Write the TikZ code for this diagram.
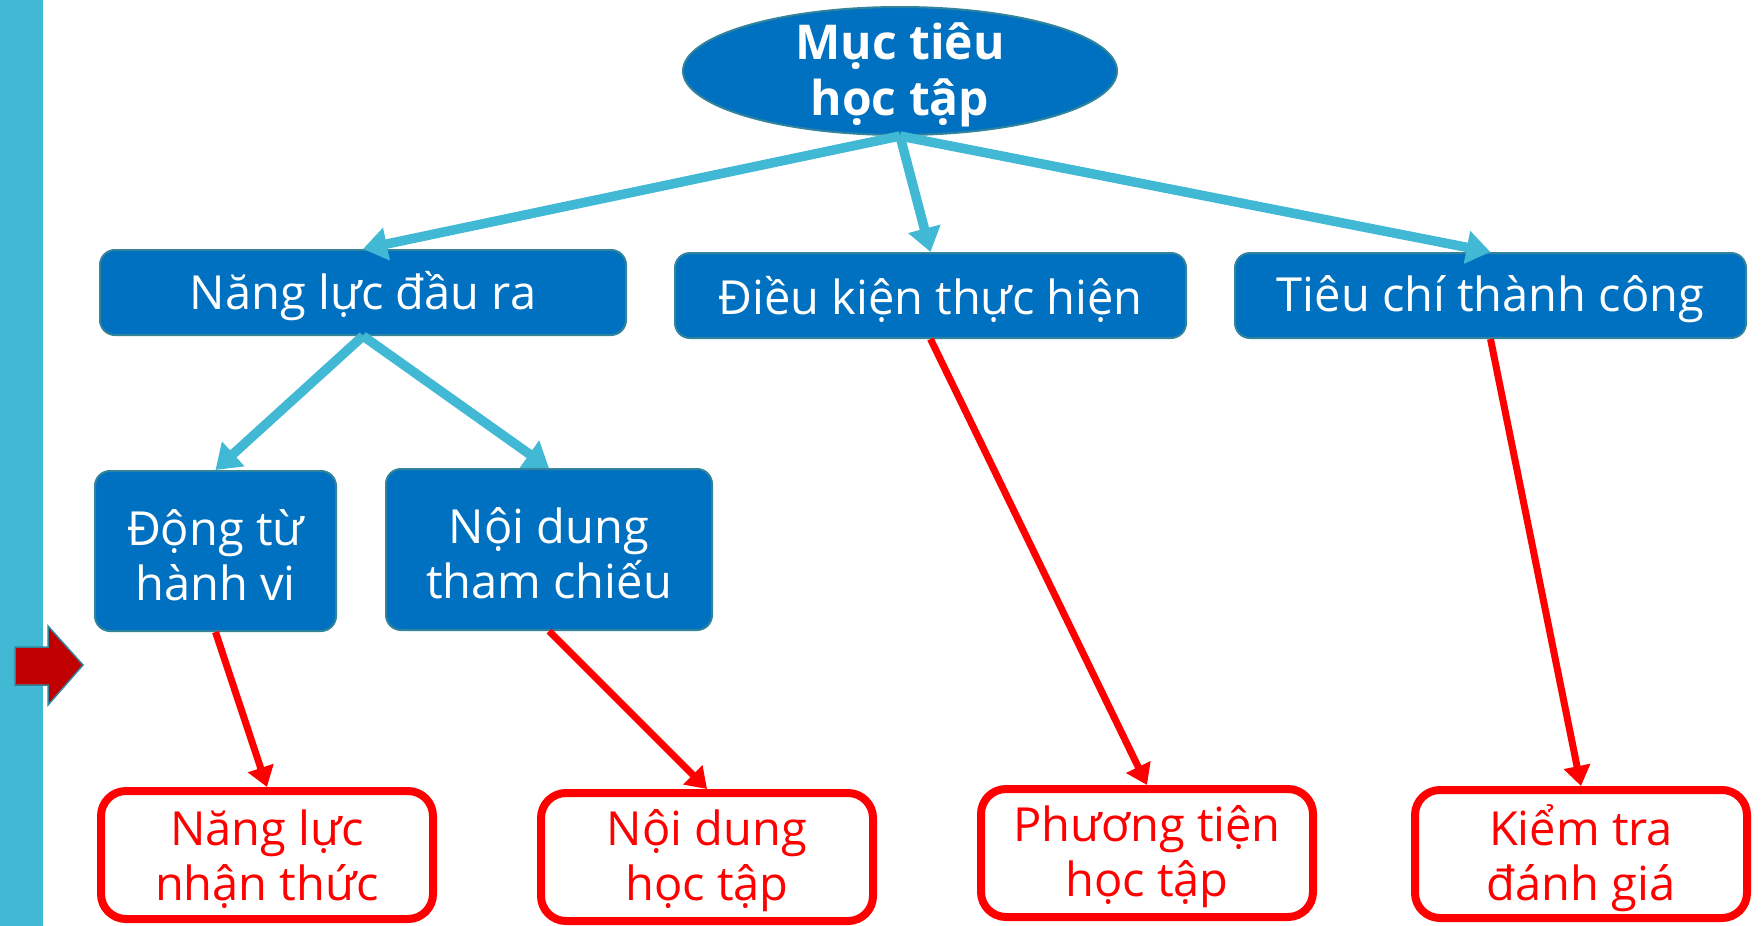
\documentclass[tikz,border=0pt]{standalone}
\usepackage{fontspec}
\setmainfont{Open Sans}
\usetikzlibrary{shapes.geometric,arrows.meta}
\definecolor{mblue}{HTML}{0070C0}
\definecolor{mcyan}{HTML}{41B8D4}
\definecolor{mteal}{HTML}{31849B}
\definecolor{mred}{HTML}{FF0000}
\definecolor{mdred}{HTML}{C00000}
\tikzset{
  boxtext/.style={align=center, inner sep=0pt, font=\fontsize{47}{55}\selectfont, yshift=-4pt},
  bluebox/.style={draw=mteal, line width=2pt, fill=mblue, rounded corners=15pt, inner sep=0pt},
  redbox/.style={draw=mred, line width=8pt, fill=white, rounded corners=25pt, inner sep=0pt,
    minimum width=332pt, minimum height=128pt},
  cyanarrow/.style={draw=mcyan, line width=9.5pt, -{Triangle[length=24pt,width=32pt]}},
  redarrow/.style={draw=mred, line width=7pt, -{Triangle[length=20pt,width=26pt]}}
}
\begin{document}
\begin{tikzpicture}[x=1pt,y=-1pt]
\useasboundingbox (0,0) rectangle (1762,926);
\fill[mcyan] (0,0) rectangle (43,926);
\draw[mteal, line width=1.5pt, fill=mdred] (15,647) -- (48,647) -- (48,626) -- (83,665) -- (48,705) -- (48,685) -- (15,685) -- cycle;

\node[ellipse, draw=mteal, line width=2pt, fill=mblue, inner sep=0pt,
  minimum width=434pt, minimum height=128pt,
  label={[text=white, align=center, inner sep=0pt, font=\bfseries\fontsize{48}{56}\selectfont, yshift=-4pt]center:{Mục tiêu\\học tập}}]
  (goal) at (900,71) {};

\node[bluebox, minimum width=526pt, minimum height=85pt,
  label={[boxtext, text=white]center:{Năng lực đầu ra}}] (nl) at (363,292.5) {};
\node[bluebox, minimum width=511pt, minimum height=85pt,
  label={[boxtext, text=white]center:{Điều kiện thực hiện}}] (dk) at (930.5,295.5) {};
\node[bluebox, minimum width=511pt, minimum height=85pt,
  label={[boxtext, text=white]center:{Tiêu chí thành công}}] (tc) at (1490.5,295.5) {};
\node[bluebox, minimum width=241pt, minimum height=160pt,
  label={[boxtext, text=white]center:{Động từ\\hành vi}}] (dt) at (215.5,551) {};
\node[bluebox, minimum width=326pt, minimum height=161pt,
  label={[boxtext, text=white]center:{Nội dung\\tham chiếu}}] (nd) at (549,549.5) {};

\node[redbox, label={[boxtext, text=mred]center:{Năng lực\\nhận thức}}] (r1) at (267,855) {};
\node[redbox, label={[boxtext, text=mred]center:{Nội dung\\học tập}}] (r2) at (707,857) {};
\node[redbox, label={[boxtext, text=mred]center:{Phương tiện\\học tập}}] (r3) at (1147,853) {};
\node[redbox, label={[boxtext, text=mred]center:{Kiểm tra\\đánh giá}}] (r4) at (1581,854) {};

\draw[cyanarrow] (goal.south) -- (nl.north);
\draw[cyanarrow] (goal.south) -- (dk.north);
\draw[cyanarrow] (goal.south) -- (tc.north);
\draw[cyanarrow] (nl.south) -- (dt.north);
\draw[cyanarrow] (nl.south) -- (nd.north);

\draw[redarrow] (dt.south) -- (r1.north);
\draw[redarrow] (nd.south) -- (r2.north);
\draw[redarrow] (dk.south) -- (r3.north);
\draw[redarrow] (tc.south) -- (r4.north);
\end{tikzpicture}
\end{document}
